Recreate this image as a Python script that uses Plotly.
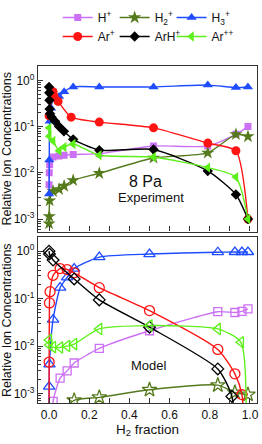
import plotly.graph_objects as go

# ---------------- data ----------------
names = ["H<sup>+</sup>", "H<sub>2</sub><sup>+</sup>", "H<sub>3</sub><sup>+</sup>",
         "Ar<sup>+</sup>", "ArH<sup>+</sup>", "Ar<sup>++</sup>"]
colors = ["#cc70f5", "#557a1c", "#1f4cff", "#ff1414", "#000000", "#5ef01a"]
symbols = ["square", "star", "triangle-up", "circle", "diamond", "triangle-left"]

# Experiment (8 Pa)
exp_H_x = [0.0, 0.001, 0.003, 0.02, 0.05, 0.075, 0.12, 0.25, 0.52, 0.79, 0.93, 0.99]
exp_H_y = [0.0055, 0.010, 0.015, 0.022, 0.023, 0.024, 0.025, 0.026, 0.038, 0.038, 0.068, 0.10]
exp_H2_x = [0.0, 0.001, 0.003, 0.02, 0.05, 0.075, 0.12, 0.25, 0.52, 0.79, 0.93, 0.99]
exp_H2_y = [0.0008, 0.00115, 0.0025, 0.004, 0.0044, 0.0052, 0.0069, 0.0098, 0.021, 0.027, 0.068, 0.061]
exp_H3_x = [0.0, 0.001, 0.003, 0.01, 0.02, 0.05, 0.075, 0.12, 0.25, 0.52, 0.79, 0.93, 0.99]
exp_H3_y = [0.0035, 0.019, 0.13, 0.25, 0.39, 0.45, 0.57, 0.72, 0.72, 0.72, 0.79, 0.70, 0.72]
exp_Ar_x = [0.0, 0.02, 0.025, 0.045, 0.11, 0.25, 0.52, 0.79, 0.93, 0.99]
exp_Ar_y = [0.17, 0.57, 0.45, 0.35, 0.16, 0.125, 0.094, 0.044, 0.030, 0.001]
exp_ArH_x = [0.0, 0.001, 0.002, 0.003, 0.005, 0.013, 0.03, 0.05, 0.074, 0.12, 0.25, 0.52, 0.79, 0.93, 0.99]
exp_ArH_y = [0.72, 0.54, 0.37, 0.24, 0.19, 0.16, 0.13, 0.10, 0.079, 0.053, 0.031, 0.032, 0.011, 0.0034, 0.001]
exp_Arpp_x = [0.0, 0.001, 0.02, 0.05, 0.075, 0.12, 0.25, 0.52, 0.79, 0.93, 0.99]
exp_Arpp_y = [0.094, 0.062, 0.049, 0.030, 0.036, 0.042, 0.024, 0.022, 0.013, 0.0081, 0.001]

# Model
mod_H_x = [0.002, 0.02, 0.055, 0.09, 0.125, 0.25, 0.5, 0.84, 0.925, 0.96, 0.99]
mod_H_y = [1e-5, 0.00068, 0.0021, 0.0030, 0.0044, 0.0089, 0.021, 0.053, 0.051, 0.054, 0.061]
mod_H2_x = [0.06, 0.125, 0.25, 0.5, 0.84, 0.925, 0.99]
mod_H2_y = [0.0004, 0.00072, 0.00083, 0.0012, 0.0015, 0.00105, 0.00095]
mod_H3_x = [0.0, 0.0005, 0.002, 0.02, 0.055, 0.09, 0.125, 0.25, 0.5, 0.84, 0.925, 0.96, 0.99]
mod_H3_y = [1e-5, 0.0014, 0.0041, 0.036, 0.17, 0.28, 0.43, 0.75, 0.87, 0.95, 0.96, 0.96, 0.96]
mod_Ar_x = [0.0, 0.0005, 0.002, 0.005, 0.02, 0.055, 0.09, 0.125, 0.25, 0.5, 0.84, 0.925, 0.96, 0.975]
mod_Ar_y = [1e-5, 0.0046, 0.081, 0.14, 0.31, 0.43, 0.41, 0.35, 0.17, 0.056, 0.0085, 0.0026, 0.00095, 1e-5]
mod_ArH_x = [0.0, 0.002, 0.02, 0.125, 0.25, 0.5, 0.84, 0.91, 0.95]
mod_ArH_y = [1.0, 0.87, 0.65, 0.26, 0.094, 0.025, 0.0033, 0.00087, 1e-5]
mod_Arpp_x = [0.0, 0.002, 0.02, 0.055, 0.09, 0.125, 0.25, 0.5, 0.84, 0.955, 0.975]
mod_Arpp_y = [0.0135, 0.0105, 0.0095, 0.0093, 0.010, 0.011, 0.023, 0.027, 0.023, 0.012, 1e-5]

exp_series = [(exp_H_x, exp_H_y), (exp_H2_x, exp_H2_y), (exp_H3_x, exp_H3_y),
              (exp_Ar_x, exp_Ar_y), (exp_ArH_x, exp_ArH_y), (exp_Arpp_x, exp_Arpp_y)]
mod_series = [(mod_H_x, mod_H_y), (mod_H2_x, mod_H2_y), (mod_H3_x, mod_H3_y),
              (mod_Ar_x, mod_Ar_y), (mod_ArH_x, mod_ArH_y), (mod_Arpp_x, mod_Arpp_y)]

x_ticks = [0.0, 0.2, 0.4, 0.6, 0.8, 1.0]
x_ticklabels = ["0.0", "0.2", "0.4", "0.6", "0.8", "1.0"]
y_ticks = [1, 0.1, 0.01, 0.001]
y_ticklabels = ["10<sup>0</sup>", "10<sup>-1</sup>", "10<sup>-2</sup>", "10<sup>-3</sup>"]
y_minor = [m * 10.0 ** e for e in (-4, -3, -2, -1, 0) for m in range(2, 10)]

FONT = "Liberation Sans, Arial, sans-serif"
msize = {"square": 7, "star": 10, "triangle-up": 9, "circle": 9, "diamond": 8, "triangle-left": 9}

fig = go.Figure()
for i, (xs, ys) in enumerate(exp_series):
    fig.add_trace(go.Scatter(
        x=xs, y=ys, name=names[i], mode="lines+markers",
        line=dict(color=colors[i], width=1.4, shape="spline", smoothing=0.6),
        marker=dict(symbol=symbols[i], size=msize[symbols[i]], color=colors[i],
                    line=dict(width=0)),
        xaxis="x", yaxis="y", showlegend=True))
for i, (xs, ys) in enumerate(mod_series):
    fig.add_trace(go.Scatter(
        x=xs, y=ys, name=names[i], mode="lines+markers",
        line=dict(color=colors[i], width=1.4, shape="spline", smoothing=0.6),
        marker=dict(symbol=symbols[i] + "-open", size=msize[symbols[i]] + 1,
                    color=colors[i], line=dict(width=1.3, color=colors[i])),
        xaxis="x2", yaxis="y2", showlegend=False, cliponaxis=True))

axis_common = dict(showline=True, linecolor="#333", linewidth=1.3, mirror=True,
                   showgrid=False, zeroline=False, ticks="inside",
                   tickcolor="#333", tickfont=dict(family=FONT, size=12, color="#111"))

xr = [-0.055, 1.035]
fig.update_layout(
    width=262, height=444,
    margin=dict(l=38, r=3, t=53, b=41),
    paper_bgcolor="white", plot_bgcolor="white",
    font=dict(family=FONT, size=12, color="#111"),
    xaxis=dict(domain=[0, 1], range=xr, anchor="y", tickmode="array",
               tickvals=x_ticks, showticklabels=False, ticklen=5,
               minor=dict(dtick=0.1, tick0=0, ticks="inside", ticklen=5, tickcolor="#333"),
               **axis_common),
    yaxis=dict(domain=[0.5086, 1], type="log", range=[-3.27, 0.31], anchor="x",
               tickmode="array", tickvals=y_ticks, ticktext=y_ticklabels, ticklen=5,
               minor=dict(tickvals=y_minor, ticks="inside", ticklen=3, tickcolor="#333"),
               title=dict(text="Relative Ion Concentrations", standoff=1,
                          font=dict(family=FONT, size=12.5, color="#111")),
               **axis_common),
    xaxis2=dict(domain=[0, 1], range=xr, anchor="y2", tickmode="array",
                tickvals=x_ticks, ticktext=x_ticklabels, ticklen=5,
                minor=dict(dtick=0.1, tick0=0, ticks="inside", ticklen=5, tickcolor="#333"),
                title=dict(text="H<sub>2</sub> fraction", standoff=2,
                           font=dict(family=FONT, size=13.5, color="#111")),
                **axis_common),
    yaxis2=dict(domain=[0, 0.4914], type="log", range=[-3.2, 0.29], anchor="x2",
                tickmode="array", tickvals=y_ticks, ticktext=y_ticklabels, ticklen=5,
                minor=dict(tickvals=y_minor, ticks="inside", ticklen=3, tickcolor="#333"),
                title=dict(text="Relative Ion Concentrations", standoff=1,
                           font=dict(family=FONT, size=12.5, color="#111")),
                **axis_common),
    legend=dict(orientation="h", x=0.09, xanchor="left", y=1.187, yanchor="top",
                entrywidthmode="fraction", entrywidth=0.26,
                font=dict(family=FONT, size=12, color="#111"),
                bgcolor="rgba(0,0,0,0)", itemwidth=30, tracegroupgap=0),
    showlegend=True,
)

fig.add_annotation(x=0.478, y=-2.18, xref="x", yref="y", text="8 Pa", showarrow=False,
                   font=dict(family=FONT, size=16, color="#111"))
fig.add_annotation(x=0.507, y=-2.53, xref="x", yref="y", text="Experiment", showarrow=False,
                   font=dict(family=FONT, size=13, color="#111"))
fig.add_annotation(x=0.498, y=-2.42, xref="x2", yref="y2", text="Model", showarrow=False,
                   font=dict(family=FONT, size=13, color="#111"))

fig.write_html("out.html", config={"displayModeBar": False},
               post_script="document.body.style.margin='0';document.body.style.padding='0';"
                           "document.body.style.overflow='hidden';")
